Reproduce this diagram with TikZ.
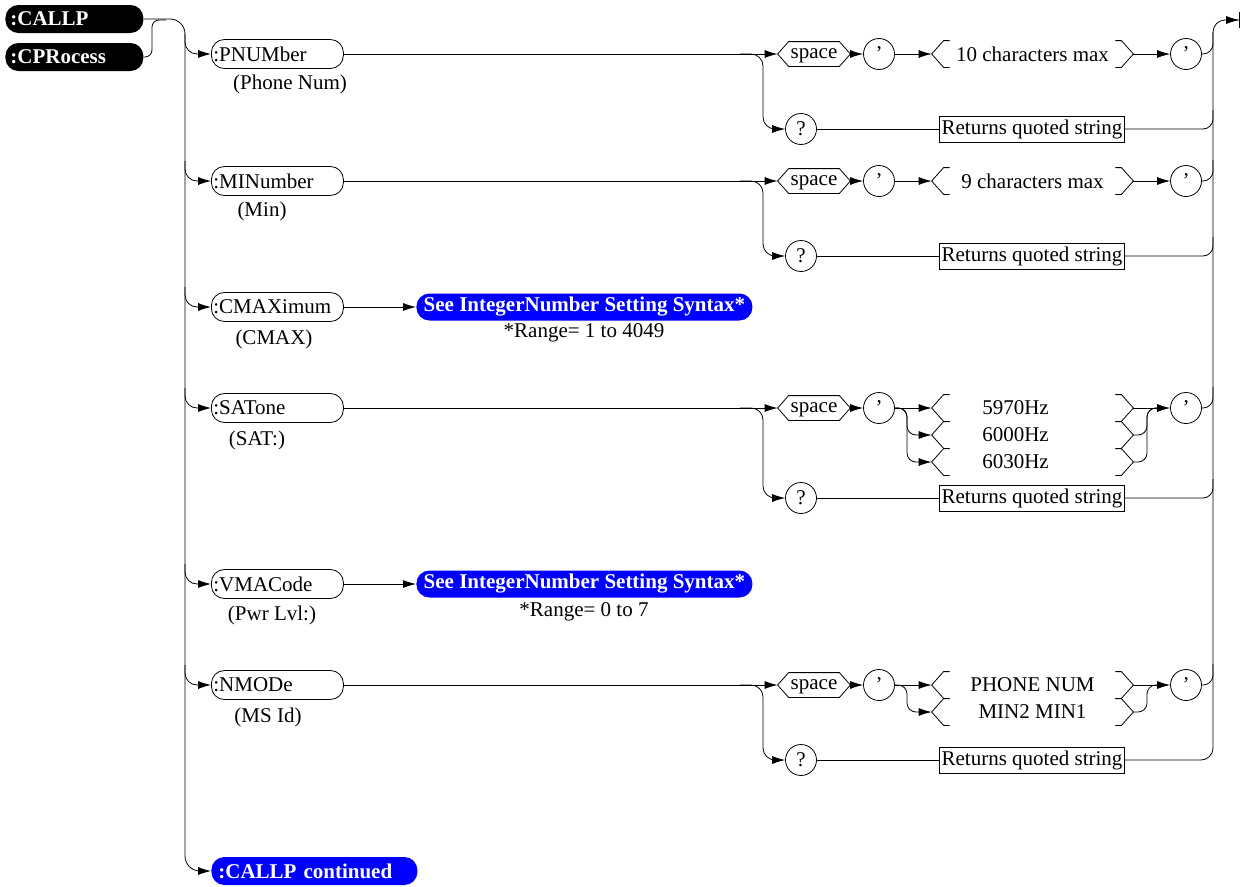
\documentclass[tikz,border=0pt]{standalone}
\usepackage{fontspec}
\setmainfont{Liberation Serif}
\usetikzlibrary{arrows.meta,calc}
\newcommand\hexdraw[1]{\draw ([xshift=11pt]#1.north west) -- ([xshift=-11pt]#1.north east) -- (#1.east) -- ([xshift=-11pt]#1.south east) -- ([xshift=11pt]#1.south west) -- (#1.west) -- cycle;}
\newcommand\brk[1]{%
  \draw ([xshift=18pt]#1.north west) -- ([xshift=12pt]#1.north west) -- (#1.west) -- ([xshift=12pt]#1.south west) -- ([xshift=18pt]#1.south west);
  \draw ([xshift=-18pt]#1.north east) -- ([xshift=-12pt]#1.north east) -- (#1.east) -- ([xshift=-12pt]#1.south east) -- ([xshift=-18pt]#1.south east);}
\begin{document}
\begin{tikzpicture}[x=1pt,y=-1pt,
  font=\fontsize{21}{24}\selectfont,
  line width=0.8pt,
  arr/.style={-{Latex[length=13pt,width=8pt]}},
  blk/.style={fill=black,text=white,font=\fontsize{21}{24}\selectfont\bfseries,rounded corners=13pt,minimum height=28pt,text width=128pt,align=left,inner xsep=5pt,inner ysep=0pt,anchor=west},
  kw/.style={draw,rounded corners=13pt,minimum height=29pt,text width=128pt,align=left,inner xsep=2pt,inner ysep=0pt,anchor=west},
  blu/.style={fill=blue,text=white,font=\fontsize{21}{24}\selectfont\bfseries,rounded corners=13pt,minimum height=27pt,inner xsep=4pt,inner ysep=0pt,anchor=west},
  circ/.style={circle,draw,minimum size=31pt,inner sep=0pt},
  hexn/.style={inner sep=0pt,minimum width=72pt,minimum height=24pt,text height=13pt,text depth=5pt},
  rbox/.style={draw,inner xsep=2pt,inner ysep=0pt,minimum height=26pt},
  br/.style={minimum width=201pt,minimum height=26pt,inner sep=0pt},
  brs/.style={minimum width=201pt,minimum height=26pt,inner sep=0pt}]
\useasboundingbox (0,0) rectangle (1244,886);

% start nodes
\node[blk] (callp) at (5,19) {:CALLP};
\node[blk] (cpr) at (5,57) {:CPRocess};
\node[blu,text width=192pt,align=left,inner xsep=7pt,minimum height=28pt] (cont) at (211,871) {:CALLP continued};

\draw[arr,rounded corners=15pt] (callp.east) -| (185,871) -- (cont.west);
\draw[rounded corners=7pt] (cpr.east) -| (152,20) -- (166,20);

% keyword nodes
\node[kw] (pn) at (211,54) {:PNUMber};
\node at (290,84) {(Phone Num)};
\node[kw] (mi) at (211,181) {:MINumber};
\node at (262,211) {(Min)};
\node[kw] (cm) at (211,307) {:CMAXimum};
\node at (274,339) {(CMAX)};
\node[kw] (sa) at (211,408) {:SATone};
\node at (257,440) {(SAT:)};
\node[kw] (vm) at (211,584) {:VMACode};
\node at (272,615) {(Pwr Lvl:)};
\node[kw] (nm) at (211,685) {:NMODe};
\node at (268,717) {(MS Id)};

\foreach \n/\y in {pn/54,mi/181,cm/307,sa/408,vm/584,nm/685}{
  \draw[arr,rounded corners=12pt] (185,\y-20) |- (\n.west);
}

% blue references
\node[blu,minimum width=336pt] (s1) at (416,307) {See IntegerNumber Setting Syntax*};
\node at (584,333) {*Range= 1 to 4049};
\draw[arr] (cm.east) -- (s1.west);
\node[blu,minimum width=336pt] (s2) at (416,584) {See IntegerNumber Setting Syntax*};
\node at (584,612) {*Range= 0 to 7};
\draw[arr] (vm.east) -- (s2.west);

% ---------- row 1 : PNUMber
\node[hexn] (sp1) at (814,54) {space}; \hexdraw{sp1}
\node[circ] (q1a) at (879,54) {'};
\node[br] (b1) at (1032.5,54) {10 characters max}; \brk{b1}
\node[circ] (q1b) at (1186,54) {'};
\node[circ] (qm1) at (801,129) {?};
\node[rbox] (rq1) at (1032,129) {Returns quoted string};
\draw[arr] (pn.east) -- (sp1.west);
\draw[arr,rounded corners=12pt] (740,54) -| (763,129) -- (qm1.west);
\draw[arr] (sp1.east) -- (q1a.west);
\draw[arr] (q1a.east) -- (b1.west);
\draw[arr] (b1.east) -- (q1b.west);
\draw[rounded corners=10pt] (q1b.east) -| (1213,32);
\draw (qm1.east) -- (rq1.west);
\draw[rounded corners=10pt] (rq1.east) -| (1213,110);

% ---------- row 2 : MINumber
\node[hexn] (sp2) at (814,181) {space}; \hexdraw{sp2}
\node[circ] (q2a) at (879,181) {'};
\node[br] (b2) at (1032.5,181) {9 characters max}; \brk{b2}
\node[circ] (q2b) at (1186,181) {'};
\node[circ] (qm2) at (801,256) {?};
\node[rbox] (rq2) at (1032,256) {Returns quoted string};
\draw[arr] (mi.east) -- (sp2.west);
\draw[arr,rounded corners=12pt] (740,181) -| (763,256) -- (qm2.west);
\draw[arr] (sp2.east) -- (q2a.west);
\draw[arr] (q2a.east) -- (b2.west);
\draw[arr] (b2.east) -- (q2b.west);
\draw[rounded corners=10pt] (q2b.east) -| (1213,160);
\draw (qm2.east) -- (rq2.west);
\draw[rounded corners=10pt] (rq2.east) -| (1213,237);

% ---------- row 4 : SATone
\node[hexn] (sp4) at (814,408) {space}; \hexdraw{sp4}
\node[circ] (q4a) at (879,408) {'};
\node[brs] (b4a) at (1032.5,408) {\hspace*{-34pt}5970Hz}; \brk{b4a}
\node[brs] (b4b) at (1032.5,435) {\hspace*{-34pt}6000Hz}; \brk{b4b}
\node[brs] (b4c) at (1032.5,462) {\hspace*{-34pt}6030Hz}; \brk{b4c}
\node[circ] (q4b) at (1186,408) {'};
\node[circ] (qm4) at (801,498) {?};
\node[rbox] (rq4) at (1032,498) {Returns quoted string};
\draw[arr] (sa.east) -- (sp4.west);
\draw[arr,rounded corners=12pt] (740,408) -| (763,498) -- (qm4.west);
\draw[arr] (sp4.east) -- (q4a.west);
\draw[arr] (q4a.east) -- (b4a.west);
\draw[arr,rounded corners=9pt] (q4a.east) -| (907,435) -- (b4b.west);
\draw[arr,rounded corners=9pt] (q4a.east) -| (907,462) -- (b4c.west);
\draw[arr] (b4a.east) -- (q4b.west);
\draw[rounded corners=9pt] (b4b.east) -| (1147,408) -- (1160,408);
\draw[rounded corners=9pt] (b4c.east) -| (1147,408) -- (1160,408);
\draw[rounded corners=10pt] (q4b.east) -| (1213,387);
\draw (qm4.east) -- (rq4.west);
\draw[rounded corners=10pt] (rq4.east) -| (1213,479);

% ---------- row 6 : NMODe
\node[hexn] (sp6) at (814,685) {space}; \hexdraw{sp6}
\node[circ] (q6a) at (879,685) {'};
\node[brs] (b6a) at (1032.5,685) {PHONE NUM}; \brk{b6a}
\node[brs] (b6b) at (1032.5,712) {MIN2 MIN1}; \brk{b6b}
\node[circ] (q6b) at (1186,685) {'};
\node[circ] (qm6) at (801,760) {?};
\node[rbox] (rq6) at (1032,760) {Returns quoted string};
\draw[arr] (nm.east) -- (sp6.west);
\draw[arr,rounded corners=12pt] (740,685) -| (763,760) -- (qm6.west);
\draw[arr] (sp6.east) -- (q6a.west);
\draw[arr] (q6a.east) -- (b6a.west);
\draw[arr,rounded corners=9pt] (q6a.east) -| (907,712) -- (b6b.west);
\draw[arr] (b6a.east) -- (q6b.west);
\draw[rounded corners=9pt] (b6b.east) -| (1147,685) -- (1160,685);
\draw[rounded corners=10pt] (q6b.east) -| (1213,664);
\draw (qm6.east) -- (rq6.west);

% right-hand collector and end
\draw[rounded corners=12pt,-{Latex[length=13pt,width=8pt,sep=0pt]Bar[width=16pt,line width=0.8pt]}] (rq6.east) -| (1213,20) -- (1240,20);
\end{tikzpicture}
\end{document}
